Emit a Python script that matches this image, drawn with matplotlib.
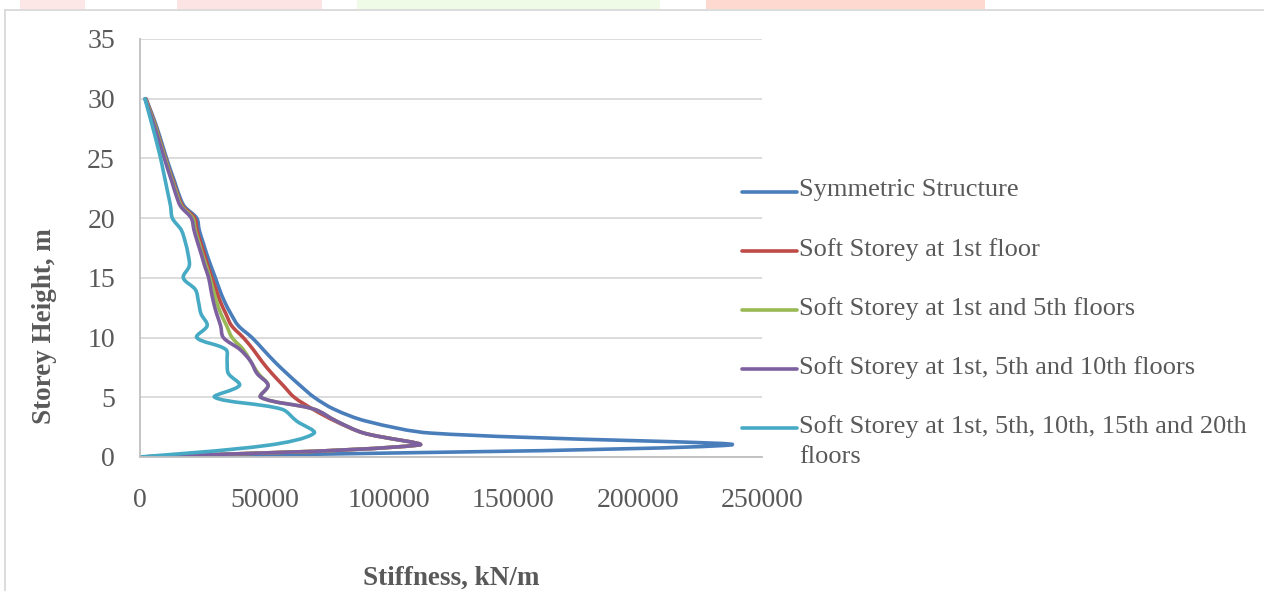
import numpy as np
import matplotlib.pyplot as plt
from matplotlib.path import Path
from matplotlib.patches import PathPatch, Rectangle
from matplotlib.lines import Line2D

plt.rcParams['font.family'] = ['Liberation Serif', 'DejaVu Serif']

# storey heights (m)
height = list(range(0, 31))

# stiffness values (kN/m)
symmetric = [0, 237000, 117000, 91000, 78000, 70000, 64300, 59000, 54000, 49500,
             45000, 39500, 36500, 34000, 32000, 30300, 28500, 26800, 25300, 23800,
             22800, 17800, 15600, 14000, 12300, 10700, 9200, 7700, 6100, 4300, 2400]
soft_1 = [0, 112000, 90000, 78500, 69500, 62000, 57500, 53000, 49000, 45500,
          41500, 36800, 34500, 32300, 30600, 28900, 27300, 25800, 24300, 22900,
          22000, 17200, 15100, 13500, 11800, 10300, 8800, 7300, 5800, 4100, 2300]
soft_1_5 = [0, 112000, 90000, 79000, 70000, 48500, 51500, 47500, 44500, 41500,
            37000, 34800, 32500, 30800, 29400, 28100, 26600, 25000, 23600, 22200,
            21200, 16700, 14800, 13200, 11600, 10100, 8600, 7100, 5600, 3900, 2100]
soft_1_5_10 = [0, 112000, 90000, 79000, 70000, 48500, 51500, 47000, 44500, 40200,
               33500, 32400, 30800, 29500, 28500, 27600, 26000, 24600, 23100, 21700,
               20600, 16300, 14400, 12900, 11300, 9800, 8300, 6800, 5300, 3700, 2000]
soft_all = [0, 52000, 70000, 63000, 57000, 30000, 40000, 35500, 35000, 34500,
            22800, 27000, 24500, 23500, 22300, 17400, 19800, 19300, 18200, 16600,
            13000, 12300, 11300, 10300, 9300, 8300, 7100, 5900, 4600, 3300, 2000]

labels = ['Symmetric Structure',
          'Soft Storey at 1st floor',
          'Soft Storey at 1st and 5th floors',
          'Soft Storey at 1st, 5th and 10th floors',
          'Soft Storey at 1st, 5th, 10th, 15th and 20th\nfloors']
colors = ['#4a7ebb', '#be4b48', '#98b954', '#7d60a0', '#46aac5']
series = [symmetric, soft_1, soft_1_5, soft_1_5_10, soft_all]

fig = plt.figure(figsize=(12.64, 5.91), dpi=100)
ax = fig.add_axes([140 / 1264, 134 / 591, 622 / 1264, 418 / 591])
ax.set_xlim(0, 250000)
ax.set_ylim(0, 35)


def smooth_path(xs, ys):
    # smoothed line like Excel: cubic bezier through the points,
    # tangents scaled by the on-screen segment lengths
    pts = np.column_stack([xs, ys]).astype(float)
    scr = ax.transData.transform(pts)
    n = len(pts)
    d = np.hypot(*np.diff(scr, axis=0).T)
    verts = [pts[0]]
    codes = [Path.MOVETO]
    for i in range(n - 1):
        p0 = pts[max(i - 1, 0)]
        p1 = pts[i]
        p2 = pts[i + 1]
        p3 = pts[min(i + 2, n - 1)]
        d01 = d[i - 1] if i > 0 else d[i]
        d12 = d[i]
        d23 = d[i + 1] if i + 1 < n - 1 else d[i]
        c1 = p1 + (p2 - p0) * d12 / (d01 + d12) / 3
        c2 = p2 - (p3 - p1) * d12 / (d12 + d23) / 3
        verts += [c1, c2, p2]
        codes += [Path.CURVE4] * 3
    return Path(verts, codes)


for vals, col in zip(series, colors):
    ax.add_patch(PathPatch(smooth_path(vals, height), facecolor='none',
                           edgecolor=col, lw=2.6, capstyle='round', joinstyle='round'))

ax.set_xticks(range(0, 250001, 50000))
ax.set_yticks(range(0, 36, 5))
ax.yaxis.grid(True, color='#d9d9d9', lw=1.3)
ax.set_axisbelow(True)
for s in ['top', 'right']:
    ax.spines[s].set_visible(False)
ax.spines['left'].set_color('#bfbfbf')
ax.spines['bottom'].set_color('#bfbfbf')
ax.spines['left'].set_linewidth(1.3)
ax.spines['bottom'].set_linewidth(1.3)
ax.tick_params(axis='x', length=0, pad=22, labelsize=20, labelcolor='#595959')
ax.tick_params(axis='y', length=0, pad=18, labelsize=20, labelcolor='#595959')

# axis titles
fig.text(451 / 1264, 1 - 578 / 591, 'Stiffness, kN/m', ha='center', va='center',
         fontsize=19.5, fontweight='bold', color='#595959')
fig.text(45 / 1264, 1 - 326 / 591, 'Storey Height, m', ha='center', va='center',
         rotation=90, fontsize=19.5, fontweight='bold', color='#595959')

# legend
leg_y = [192, 251, 310, 369, 428]
for lab, col, yy in zip(labels, colors, leg_y):
    fig.add_artist(Line2D([742 / 1264, 797 / 1264], [1 - yy / 591] * 2,
                          color=col, lw=2.6, solid_capstyle='round'))
    fig.text(799 / 1264, 1 - (yy - 13) / 591, lab, ha='left', va='top',
             fontsize=19, color='#595959', linespacing=1.45)

# chart frame
fig.add_artist(Line2D([5 / 1264, 5 / 1264], [0, 1 - 10 / 591], color='#d9d9d9', lw=1.3))
fig.add_artist(Line2D([5 / 1264, 1], [1 - 10 / 591] * 2, color='#d9d9d9', lw=1.3))

# page background strips above the chart
for x0, x1, c in [(20, 85, '#fde6e6'), (177, 322, '#fde4e4'), (357, 660, '#effbe6'),
                  (706, 985, '#fdd9d0')]:
    fig.add_artist(Rectangle((x0 / 1264, 1 - 9 / 591), (x1 - x0) / 1264, 9 / 591,
                             transform=fig.transFigure, color=c, lw=0))

fig.savefig('out.png', dpi=100)
